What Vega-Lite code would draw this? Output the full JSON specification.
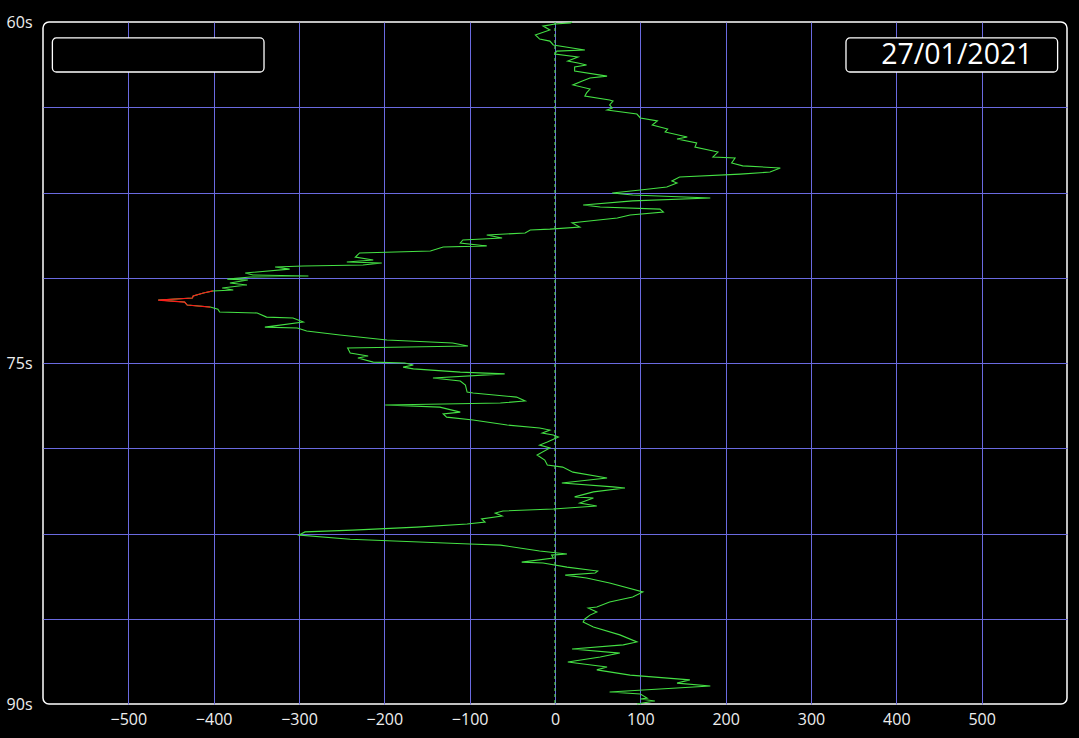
{
  "$schema": "https://vega.github.io/schema/vega-lite/v6.json",
  "autosize": "none",
  "width": 1024,
  "height": 682,
  "padding": {"left": 43, "top": 22, "right": 12, "bottom": 34},
  "background": "#000000",
  "config": {
    "view": {"stroke": "#ffffff", "strokeWidth": 1.5, "cornerRadius": 6, "fill": "#000000"},
    "font": "Open Sans"
  },
  "datasets": {
    "trace": [
      {"t": 60.0, "v": 20}, {"t": 60.04, "v": 18}, {"t": 60.09, "v": 0}, {"t": 60.18, "v": -14}, {"t": 60.35, "v": -6},
      {"t": 60.57, "v": -23}, {"t": 60.75, "v": -18}, {"t": 60.84, "v": -6}, {"t": 61.01, "v": -2}, {"t": 61.23, "v": 35},
      {"t": 61.28, "v": 2}, {"t": 61.41, "v": 0}, {"t": 61.54, "v": 27}, {"t": 61.72, "v": 15}, {"t": 61.80, "v": 27},
      {"t": 61.89, "v": 37}, {"t": 61.98, "v": 23}, {"t": 62.16, "v": 23}, {"t": 62.38, "v": 61}, {"t": 62.46, "v": 41},
      {"t": 62.60, "v": 32}, {"t": 62.77, "v": 21}, {"t": 62.95, "v": 41}, {"t": 63.12, "v": 37}, {"t": 63.26, "v": 35},
      {"t": 63.43, "v": 64}, {"t": 63.48, "v": 68}, {"t": 63.65, "v": 64}, {"t": 63.78, "v": 67}, {"t": 63.87, "v": 61},
      {"t": 64.05, "v": 96}, {"t": 64.22, "v": 100}, {"t": 64.35, "v": 120}, {"t": 64.53, "v": 114}, {"t": 64.71, "v": 132},
      {"t": 64.84, "v": 129}, {"t": 65.06, "v": 155}, {"t": 65.15, "v": 143}, {"t": 65.32, "v": 166}, {"t": 65.50, "v": 164},
      {"t": 65.72, "v": 191}, {"t": 65.94, "v": 185}, {"t": 65.98, "v": 211}, {"t": 66.20, "v": 207}, {"t": 66.33, "v": 220},
      {"t": 66.42, "v": 264}, {"t": 66.60, "v": 252}, {"t": 66.69, "v": 217}, {"t": 66.82, "v": 146}, {"t": 66.99, "v": 137},
      {"t": 67.08, "v": 143}, {"t": 67.26, "v": 131}, {"t": 67.39, "v": 100}, {"t": 67.52, "v": 67}, {"t": 67.61, "v": 91},
      {"t": 67.74, "v": 182}, {"t": 67.87, "v": 91}, {"t": 68.05, "v": 33}, {"t": 68.14, "v": 53}, {"t": 68.23, "v": 123},
      {"t": 68.36, "v": 127}, {"t": 68.49, "v": 88}, {"t": 68.62, "v": 73}, {"t": 68.80, "v": 29}, {"t": 68.84, "v": 20},
      {"t": 69.02, "v": 29}, {"t": 69.11, "v": -6}, {"t": 69.15, "v": -29}, {"t": 69.28, "v": -35}, {"t": 69.37, "v": -80},
      {"t": 69.50, "v": -62}, {"t": 69.59, "v": -108}, {"t": 69.72, "v": -111}, {"t": 69.85, "v": -80}, {"t": 69.90, "v": -131},
      {"t": 70.07, "v": -146}, {"t": 70.16, "v": -229}, {"t": 70.34, "v": -234}, {"t": 70.47, "v": -213}, {"t": 70.56, "v": -244},
      {"t": 70.60, "v": -203}, {"t": 70.69, "v": -225}, {"t": 70.73, "v": -295}, {"t": 70.78, "v": -328}, {"t": 70.87, "v": -311},
      {"t": 71.04, "v": -363}, {"t": 71.13, "v": -354}, {"t": 71.17, "v": -289}, {"t": 71.22, "v": -357}, {"t": 71.31, "v": -384},
      {"t": 71.35, "v": -360}, {"t": 71.48, "v": -381}, {"t": 71.57, "v": -361}, {"t": 71.70, "v": -390}, {"t": 71.79, "v": -377},
      {"t": 71.83, "v": -401}, {"t": 71.92, "v": -412}, {"t": 72.05, "v": -424}, {"t": 72.14, "v": -425}, {"t": 72.23, "v": -465},
      {"t": 72.32, "v": -434}, {"t": 72.45, "v": -431}, {"t": 72.54, "v": -404}, {"t": 72.63, "v": -395}, {"t": 72.76, "v": -393},
      {"t": 72.80, "v": -349}, {"t": 72.98, "v": -338}, {"t": 73.02, "v": -307}, {"t": 73.20, "v": -295}, {"t": 73.42, "v": -340},
      {"t": 73.46, "v": -302}, {"t": 73.59, "v": -291}, {"t": 73.77, "v": -252}, {"t": 73.99, "v": -197}, {"t": 74.12, "v": -120},
      {"t": 74.25, "v": -102}, {"t": 74.34, "v": -243}, {"t": 74.56, "v": -240}, {"t": 74.69, "v": -219}, {"t": 74.78, "v": -231},
      {"t": 74.96, "v": -213}, {"t": 75.00, "v": -176}, {"t": 75.09, "v": -166}, {"t": 75.18, "v": -178}, {"t": 75.26, "v": -166},
      {"t": 75.40, "v": -111}, {"t": 75.48, "v": -59}, {"t": 75.66, "v": -143}, {"t": 75.79, "v": -111}, {"t": 75.97, "v": -105},
      {"t": 76.28, "v": -103}, {"t": 76.32, "v": -96}, {"t": 76.50, "v": -45}, {"t": 76.67, "v": -35}, {"t": 76.76, "v": -64},
      {"t": 76.85, "v": -199}, {"t": 76.94, "v": -135}, {"t": 77.16, "v": -111}, {"t": 77.24, "v": -131}, {"t": 77.38, "v": -127},
      {"t": 77.51, "v": -96}, {"t": 77.73, "v": -56}, {"t": 77.86, "v": -18}, {"t": 77.95, "v": -6}, {"t": 78.08, "v": -15},
      {"t": 78.17, "v": -2}, {"t": 78.26, "v": 4}, {"t": 78.48, "v": -9}, {"t": 78.61, "v": -18}, {"t": 78.74, "v": -6},
      {"t": 79.05, "v": -21}, {"t": 79.27, "v": -12}, {"t": 79.49, "v": -9}, {"t": 79.58, "v": 9}, {"t": 79.80, "v": 21},
      {"t": 80.06, "v": 61}, {"t": 80.28, "v": 8}, {"t": 80.45, "v": 68}, {"t": 80.50, "v": 82}, {"t": 80.67, "v": 45},
      {"t": 80.89, "v": 23}, {"t": 80.94, "v": 45}, {"t": 81.16, "v": 29}, {"t": 81.29, "v": 49}, {"t": 81.42, "v": -2},
      {"t": 81.51, "v": -61}, {"t": 81.60, "v": -70}, {"t": 81.73, "v": -62}, {"t": 81.86, "v": -86}, {"t": 82.00, "v": -82},
      {"t": 82.08, "v": -103}, {"t": 82.22, "v": -162}, {"t": 82.35, "v": -237}, {"t": 82.43, "v": -293}, {"t": 82.57, "v": -300},
      {"t": 82.75, "v": -240}, {"t": 82.96, "v": -100}, {"t": 83.01, "v": -64}, {"t": 83.27, "v": -18}, {"t": 83.40, "v": 14},
      {"t": 83.45, "v": -4}, {"t": 83.58, "v": -2}, {"t": 83.76, "v": -39}, {"t": 83.80, "v": -14}, {"t": 83.98, "v": 14},
      {"t": 84.15, "v": 50}, {"t": 84.24, "v": 47}, {"t": 84.33, "v": 12}, {"t": 84.46, "v": 37}, {"t": 84.68, "v": 64},
      {"t": 85.07, "v": 103}, {"t": 85.29, "v": 91}, {"t": 85.51, "v": 64}, {"t": 85.73, "v": 49}, {"t": 85.78, "v": 39},
      {"t": 85.95, "v": 49}, {"t": 86.09, "v": 41}, {"t": 86.26, "v": 35}, {"t": 86.39, "v": 33}, {"t": 86.61, "v": 45},
      {"t": 86.96, "v": 76}, {"t": 87.27, "v": 96}, {"t": 87.40, "v": 80}, {"t": 87.58, "v": 20}, {"t": 87.76, "v": 76},
      {"t": 87.93, "v": 53}, {"t": 88.15, "v": 15}, {"t": 88.37, "v": 61}, {"t": 88.50, "v": 49}, {"t": 88.73, "v": 88},
      {"t": 88.94, "v": 158}, {"t": 89.08, "v": 143}, {"t": 89.21, "v": 182}, {"t": 89.47, "v": 64}, {"t": 89.56, "v": 100},
      {"t": 89.74, "v": 108}, {"t": 89.78, "v": 100}, {"t": 89.87, "v": 117}, {"t": 90.0, "v": 96}
    ],
    "boxes": [
      {"x1": -589, "x2": -341, "t1": 60.7, "t2": 62.2, "cx": -465, "ct": 61.45, "label": ""},
      {"x1": 341, "x2": 589, "t1": 60.7, "t2": 62.2, "cx": 471, "ct": 61.45, "label": "27/01/2021"}
    ]
  },
  "encoding": {
    "x": {
      "type": "quantitative",
      "scale": {"domain": [-600, 600], "nice": false, "zero": false},
      "axis": {
        "title": null, "values": [-500, -400, -300, -200, -100, 0, 100, 200, 300, 400, 500],
        "domain": false, "ticks": false, "grid": true, "gridColor": "#6a6ae0", "gridWidth": 1,
        "labelColor": "#eeeeee", "labelFontSize": 16, "labelPadding": 7, "labelFont": "Open Sans"
      }
    },
    "y": {
      "type": "quantitative",
      "scale": {"domain": [60, 90], "reverse": true, "nice": false, "zero": false},
      "axis": {
        "title": null, "values": [60, 63.75, 67.5, 71.25, 75, 78.75, 82.5, 86.25, 90],
        "labelExpr": "datum.value % 15 == 0 ? datum.value + 's' : ''",
        "domain": false, "ticks": false, "grid": true,
        "gridColor": {"condition": {"test": "datum.value == 60 || datum.value == 90", "value": "transparent"}, "value": "#6a6ae0"},
        "gridWidth": 1, "labelFlush": false, "labelBaseline": "middle",
        "labelColor": "#eeeeee", "labelFontSize": 16, "labelPadding": 11, "labelFont": "Open Sans"
      }
    }
  },
  "layer": [
    {
      "data": {"values": [{"zero": 0}]},
      "mark": {"type": "rule", "color": "#55cc55", "strokeDash": [3, 3], "strokeWidth": 1.2},
      "encoding": {"x": {"field": "zero", "type": "quantitative"}}
    },
    {
      "data": {"name": "trace"},
      "mark": {"type": "line", "color": "#44e044", "strokeWidth": 1.1},
      "encoding": {
        "x": {"field": "v", "type": "quantitative"},
        "y": {"field": "t", "type": "quantitative"},
        "order": {"field": "t", "type": "quantitative"}
      }
    },
    {
      "data": {"name": "trace"},
      "transform": [{"filter": {"field": "t", "range": [71.83, 72.54]}}],
      "mark": {"type": "line", "color": "#ff1a1a", "strokeWidth": 1.2},
      "encoding": {
        "x": {"field": "v", "type": "quantitative"},
        "y": {"field": "t", "type": "quantitative"},
        "order": {"field": "t", "type": "quantitative"}
      }
    },
    {
      "data": {"name": "boxes"},
      "mark": {"type": "rect", "fill": "#000000", "stroke": "#ffffff", "strokeWidth": 1.3, "cornerRadius": 4},
      "encoding": {
        "x": {"field": "x1", "type": "quantitative"},
        "x2": {"field": "x2"},
        "y": {"field": "t1", "type": "quantitative"},
        "y2": {"field": "t2"}
      }
    },
    {
      "data": {"name": "boxes"},
      "transform": [{"filter": "datum.label != ''"}],
      "mark": {"type": "text", "color": "#ffffff", "fontSize": 28.5, "font": "Open Sans", "align": "center", "baseline": "middle"},
      "encoding": {
        "x": {"field": "cx", "type": "quantitative"},
        "y": {"field": "ct", "type": "quantitative"},
        "text": {"field": "label"}
      }
    }
  ]
}
